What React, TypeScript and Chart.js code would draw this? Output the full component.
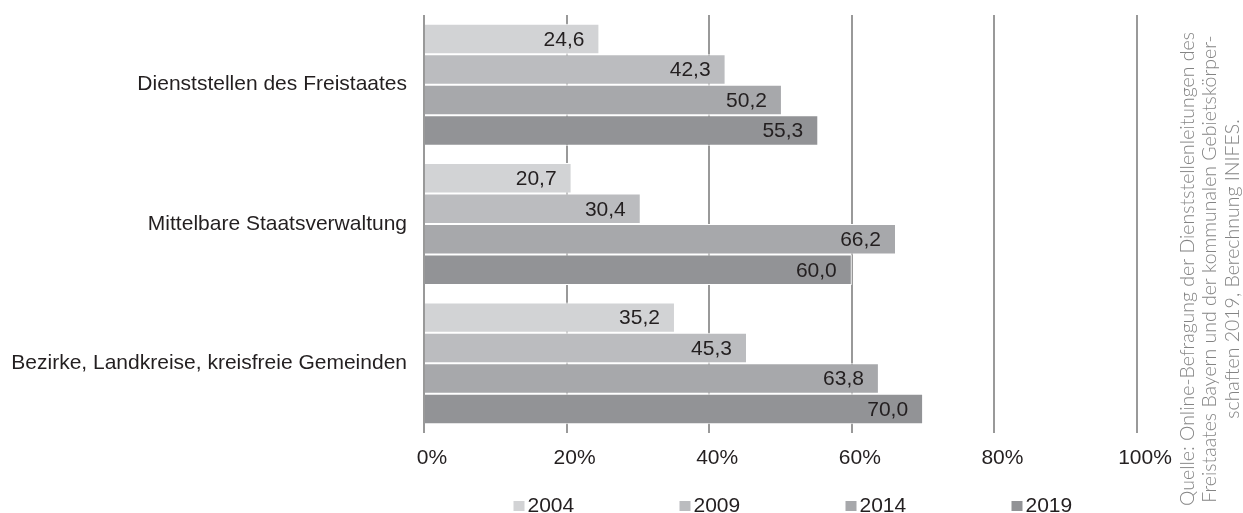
import React, { useEffect, useRef } from "react";
import { Chart, registerables } from "chart.js";

Chart.register(...registerables);

const categories = [
  "Dienststellen des Freistaates",
  "Mittelbare Staatsverwaltung",
  "Bezirke, Landkreise, kreisfreie Gemeinden",
];
const seriesLabels = ["2004", "2009", "2014", "2019"];
const values2004 = [24.6, 20.7, 35.2];
const values2009 = [42.3, 30.4, 45.3];
const values2014 = [50.2, 66.2, 63.8];
const values2019 = [55.3, 60.0, 70.0];
const seriesColors = ["#d2d3d5", "#bbbcbf", "#a7a8ab", "#929396"];
const xTicks = [0, 20, 40, 60, 80, 100];
const sourceLines = [
  "Quelle: Online-Befragung der Dienststellenleitungen des",
  "Freistaates Bayern und der kommunalen Gebietskörper-",
  "schaften 2019, Berechnung INIFES.",
];

const FONT = "'Liberation Sans', Arial, sans-serif";
const TEXT = "#231f20";
const FS = 21;

const dataLabelPlugin = {
  id: "dataLabels",
  afterDatasetsDraw(chart: any) {
    const ctx = chart.ctx;
    ctx.save();
    ctx.font = `${FS}px ${FONT}`;
    ctx.fillStyle = TEXT;
    ctx.textAlign = "right";
    ctx.textBaseline = "middle";
    chart.data.datasets.forEach((ds: any, di: number) => {
      const meta = chart.getDatasetMeta(di);
      meta.data.forEach((bar: any, i: number) => {
        const v = ds.data[i];
        const txt = v.toFixed(1).replace(".", ",");
        ctx.fillText(txt, bar.x - 15, bar.y + 1);
      });
    });
    ctx.restore();
  },
};

const legendPlugin = {
  id: "customLegend",
  afterDraw(chart: any) {
    const ctx = chart.ctx;
    const ca = chart.chartArea;
    const step = 166;
    const n = chart.data.datasets.length;
    const total = step * (n - 1) + 60;
    let x0 = (ca.left + ca.right) / 2 - total / 2 + 12;
    const y = 501;
    ctx.save();
    ctx.font = `${FS}px ${FONT}`;
    ctx.textAlign = "left";
    ctx.textBaseline = "alphabetic";
    chart.data.datasets.forEach((ds: any, i: number) => {
      const x = x0 + i * step;
      ctx.fillStyle = ds.backgroundColor;
      ctx.fillRect(x, y, 11, 10);
      ctx.fillStyle = TEXT;
      ctx.fillText(ds.label, x + 14, y + 10.5);
    });
    ctx.restore();
  },
};

const sourcePlugin = {
  id: "sourceText",
  afterDraw(chart: any) {
    const ctx = chart.ctx;
    ctx.save();
    ctx.translate(chart.width - 33, 269);
    ctx.rotate(-Math.PI / 2);
    ctx.font = "300 19.5px Lato, 'Open Sans', sans-serif";
    ctx.fillStyle = "#848484";
    ctx.textAlign = "center";
    ctx.textBaseline = "middle";
    sourceLines.forEach((line, i) => {
      ctx.fillText(line, 0, (i - 1) * 22.5);
    });
    ctx.restore();
  },
};

export default function App() {
  const ref = useRef<HTMLCanvasElement | null>(null);

  useEffect(() => {
    document.body.style.margin = "0";
    const seriesValues = [values2004, values2009, values2014, values2019];
    const chart = new Chart(ref.current as HTMLCanvasElement, {
      type: "bar",
      data: {
        labels: categories,
        datasets: seriesLabels.map((label, i) => ({
          label,
          data: seriesValues[i],
          backgroundColor: seriesColors[i],
          borderColor: "#ffffff",
          borderWidth: 1,
          categoryPercentage: 0.875,
          barPercentage: 1,
        })),
      },
      options: {
        indexAxis: "y",
        animation: false,
        responsive: false,
        maintainAspectRatio: false,
        layout: { padding: { top: 15, right: 106, left: 0, bottom: 0 } },
        plugins: {
          legend: { display: false },
          tooltip: { enabled: false },
        },
        scales: {
          x: {
            min: 0,
            max: 100,
            afterBuildTicks(scale: any) {
              scale.ticks = xTicks.map((v) => ({ value: v }));
            },
            afterFit(scale: any) {
              scale.height = 80;
            },
            grid: {
              color: "#999999",
              lineWidth: 2,
              drawTicks: false,
            },
            border: { display: false },
            ticks: {
              font: { size: FS, family: FONT },
              color: TEXT,
              padding: 13,
              labelOffset: 8,
              callback: (v: any) => `${v}%`,
            },
          },
          y: {
            afterFit(scale: any) {
              scale.width = 424;
              scale.paddingTop = 0;
              scale.paddingBottom = 0;
            },
            grid: { display: false, drawTicks: false },
            border: { display: false },
            ticks: {
              font: { size: FS, family: FONT },
              color: TEXT,
              padding: 17,
            },
          },
        },
      },
      plugins: [dataLabelPlugin, legendPlugin, sourcePlugin],
    } as any);
    return () => chart.destroy();
  }, []);

  return (
    <div style={{ width: 1243, height: 513, overflow: "hidden" }}>
      <canvas ref={ref} width={1243} height={513} style={{ display: "block" }} />
    </div>
  );
}
